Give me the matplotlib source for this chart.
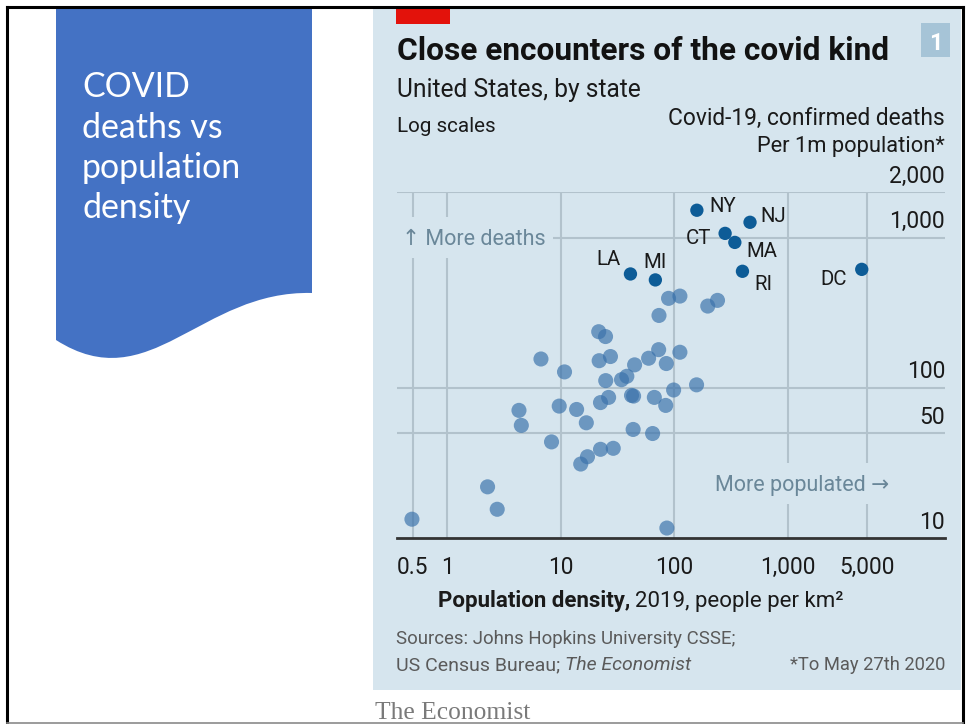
import matplotlib
matplotlib.use("Agg")
import matplotlib.pyplot as plt
import matplotlib.transforms as mtransforms
from matplotlib.patches import Rectangle, PathPatch
from matplotlib.path import Path

# ---------------- data ----------------
other_density = [0.49, 2.27, 2.76, 4.29, 4.5, 6.7, 10.8, 8.3, 9.7, 13.8, 16.8, 15.0,
                 17.2, 22.4, 29.0, 21.6, 24.8, 21.8, 27.4, 24.9, 22.4, 26.4, 34.3, 38.2,
                 44.7, 42.0, 43.8, 43.4, 59.4, 72.8, 85, 112, 66.7, 84, 98.6, 157,
                 64.4, 86, 73.3, 89, 112, 197, 240]
other_deaths = [13.4, 22.0, 15.6, 71, 56.4, 156, 128, 43.8, 75.8, 72, 58.7, 31.2,
                34.9, 39.1, 39.7, 237, 220, 152, 162, 112, 80, 86.6, 113.6, 119.7,
                142.6, 89.3, 88.4, 53.0, 157.8, 180, 145.5, 173, 86.6, 76.6, 97, 105,
                49.8, 11.7, 304, 395, 409, 351, 383]

hl_states = ["NY", "NJ", "CT", "MA", "LA", "MI", "RI", "DC"]
hl_density = [158, 464, 280, 341, 41.1, 68.1, 398, 4467]
hl_deaths = [1524, 1267, 1069, 931, 574, 524, 598, 616]

x_ticks = [0.5, 1, 10, 100, 1000, 5000]
x_tick_labels = ["0.5", "1", "10", "100", "1,000", "5,000"]
y_ticks = [10, 50, 100, 1000, 2000]
y_tick_labels = ["10", "50", "100", "1,000", "2,000"]

# ---------------- styling ----------------
W, H = 966, 724
PANEL = "#d6e5ee"
GRID = "#b2c2cc"
NOTE = "#6a8799"
LIGHT = "#3a72ab"
DARK = "#0d5c97"
SANS = ["Roboto", "DejaVu Sans"]

fig = plt.figure(figsize=(W / 100, H / 100), dpi=100)
fig.patch.set_facecolor("white")
tp = mtransforms.Affine2D().scale(1 / W, -1 / H).translate(0, 1) + fig.transFigure

def rect(x0, y0, x1, y1, target=None, **kw):
    r = Rectangle((x0, y1), x1 - x0, y0 - y1, transform=tp, **kw)
    if target is None:
        fig.add_artist(r)
    else:
        r.set_clip_on(False)
        target.add_artist(r)
    return r

def txt(x, y, s, **kw):
    kw.setdefault("va", "baseline")
    kw.setdefault("family", SANS)
    return fig.text(x, y, s, transform=tp, **kw)

# slide frame
fig.add_artist(plt.Line2D([7, 963], [7, 7], transform=tp, color="black", lw=2.2))
fig.add_artist(plt.Line2D([7, 7], [7, 724], transform=tp, color="black", lw=2.2))
fig.add_artist(plt.Line2D([963, 963], [7, 724], transform=tp, color="black", lw=2.2))
fig.add_artist(plt.Line2D([7, 963], [722.5, 722.5], transform=tp, color="#8a8a8a", lw=1.2))

# blue banner shape with wavy bottom
verts = [(56, 8), (312, 8), (312, 293), (200, 290), (150, 400), (56, 340), (56, 8)]
codes = [Path.MOVETO, Path.LINETO, Path.LINETO, Path.CURVE4, Path.CURVE4, Path.CURVE4,
         Path.CLOSEPOLY]
fig.add_artist(PathPatch(Path(verts, codes), transform=tp, facecolor="#4472c4",
                         edgecolor="none"))

# chart panel
rect(373, 8, 961, 690, facecolor=PANEL, edgecolor="none", zorder=0)
rect(396, 8, 450, 24, facecolor="#e3120b", edgecolor="none", zorder=1)
rect(921, 23, 950, 57, facecolor="#a6c4d7", edgecolor="none", zorder=1)

# axes
x0, x1 = 397, 945
yb, yt = 538.3, 192.5
ax = fig.add_axes([x0 / W, 1 - yb / H, (x1 - x0) / W, (yb - yt) / H])
ax.set_xscale("log")
ax.set_yscale("log")
ax.set_xlim(0.362, 24150)
ax.set_ylim(10, 2000)
ax.patch.set_alpha(0)
for sp in ["top", "right", "left"]:
    ax.spines[sp].set_visible(False)
ax.spines["bottom"].set_color("#333333")
ax.spines["bottom"].set_linewidth(2.0)
ax.spines["bottom"].set_zorder(6)
ax.set_yticks([])
ax.yaxis.set_minor_locator(matplotlib.ticker.NullLocator())
ax.xaxis.set_minor_locator(matplotlib.ticker.NullLocator())
ax.set_xticks(x_ticks)
ax.set_xticklabels(x_tick_labels, family=SANS, fontsize=16.3, color="#1a1a1a")
ax.tick_params(axis="x", length=0, pad=13)

for xv in x_ticks:
    ax.axvline(xv, color=GRID, lw=1.5, zorder=1)
for yv in y_ticks[1:]:
    ax.axhline(yv, color=GRID, lw=1.5, zorder=1)

ytr = mtransforms.blended_transform_factory(ax.transAxes, ax.transData)
for yv, lab in zip(y_ticks, y_tick_labels):
    ax.annotate(lab, (1, yv), xycoords=ytr, xytext=(0, 7), textcoords="offset points",
                ha="right", va="baseline", family=SANS, fontsize=16.5, color="#1a1a1a")

# note boxes (cover gridlines)
rect(395, 217, 553, 258, target=ax, facecolor=PANEL, edgecolor="none", zorder=2)
rect(708, 463, 902, 504, target=ax, facecolor=PANEL, edgecolor="none", zorder=2)
ax.text(402, 245, "\u2191 More deaths", transform=tp, va="baseline", family=SANS,
        color=NOTE, fontsize=15.5, zorder=2.5, clip_on=False)
ax.text(889, 491, "More populated \u2192", transform=tp, va="baseline", family=SANS,
        color=NOTE, fontsize=15.5, ha="right", zorder=2.5, clip_on=False)

ax.scatter(other_density, other_deaths, s=118, color=LIGHT, alpha=0.68,
           edgecolors="none", zorder=3, clip_on=False)
ax.scatter(hl_density, hl_deaths, s=92, color=DARK, edgecolors="none", zorder=4,
           clip_on=False)

lab_off = {"NY": (12, 1.3, "left"), "NJ": (10, 0, "left"), "CT": (-14, 10.7, "right"),
           "MA": (12, 15, "left"), "LA": (-10, -8.7, "right"), "MI": (0, -11.7, "center"),
           "RI": (12, 18.3, "left"), "DC": (-15, 15.3, "right")}
for st, xv, yv in zip(hl_states, hl_density, hl_deaths):
    dx, dy, ha = lab_off[st]
    ax.annotate(st, (xv, yv), xytext=(dx * 0.72, -dy * 0.72), textcoords="offset points",
                ha=ha, va="baseline", family=SANS, fontsize=14.7, color="#1a1a1a",
                zorder=6)

# texts
fig.canvas.draw()
R = fig.canvas.get_renderer()

def fit(t, width):
    bb = t.get_window_extent(renderer=R)
    t.set_fontsize(t.get_fontsize() * width / bb.width)
    return t

fit(txt(397, 59.5, "Close encounters of the covid kind", fontsize=24, weight="bold",
        color="#121212"), 494)
fit(txt(397, 97, "United States, by state", fontsize=18, color="#1a1a1a"), 244)
fit(txt(397, 131.5, "Log scales", fontsize=16, color="#1a1a1a"), 99)
fit(txt(945, 125, "Covid-19, confirmed deaths", fontsize=17, ha="right",
        color="#1a1a1a"), 278)
fit(txt(945, 152.3, "Per 1m population*", fontsize=16, ha="right", color="#1a1a1a"), 188)
txt(935.5, 50, "1", fontsize=17, weight="bold", color="white", ha="center")

xl1 = txt(438, 606.5, "Population density,", fontsize=16, weight="bold", color="#1a1a1a")
fig.canvas.draw()
bb = xl1.get_window_extent(renderer=R)
txt(bb.x1 + 5, 606.5, "2019, people per km\u00b2", fontsize=16, color="#1a1a1a")

SRC = "#5a5a5a"
fit(txt(396, 644, "Sources: Johns Hopkins University CSSE;", fontsize=14, color=SRC), 343)
l2 = txt(396, 670, "US Census Bureau; ", fontsize=14, color=SRC)
fig.canvas.draw()
bb2 = l2.get_window_extent(renderer=R)
txt(bb2.x1, 670, "The Economist", fontsize=14, color=SRC, style="italic")
fit(txt(945, 670, "*To May 27th 2020", fontsize=14, color=SRC, ha="right"), 157)

fit(txt(375, 719, "The Economist", fontsize=16, color="#7a7a7a",
        family=["Liberation Serif", "DejaVu Serif"]), 155)

# banner title
lato = ["Lato", "DejaVu Sans"]
t_pop = txt(82, 178.3, "population", fontsize=22, color="white", family=lato,
            weight="normal")
fit(t_pop, 159)
fs = t_pop.get_fontsize()
txt(82, 97, "COVID", fontsize=fs, color="white", family=lato, weight="normal")
txt(82, 138, "deaths vs", fontsize=fs, color="white", family=lato, weight="normal")
txt(82, 218.3, "density", fontsize=fs, color="white", family=lato, weight="normal")

fig.savefig("out.png", dpi=100, facecolor="white")
